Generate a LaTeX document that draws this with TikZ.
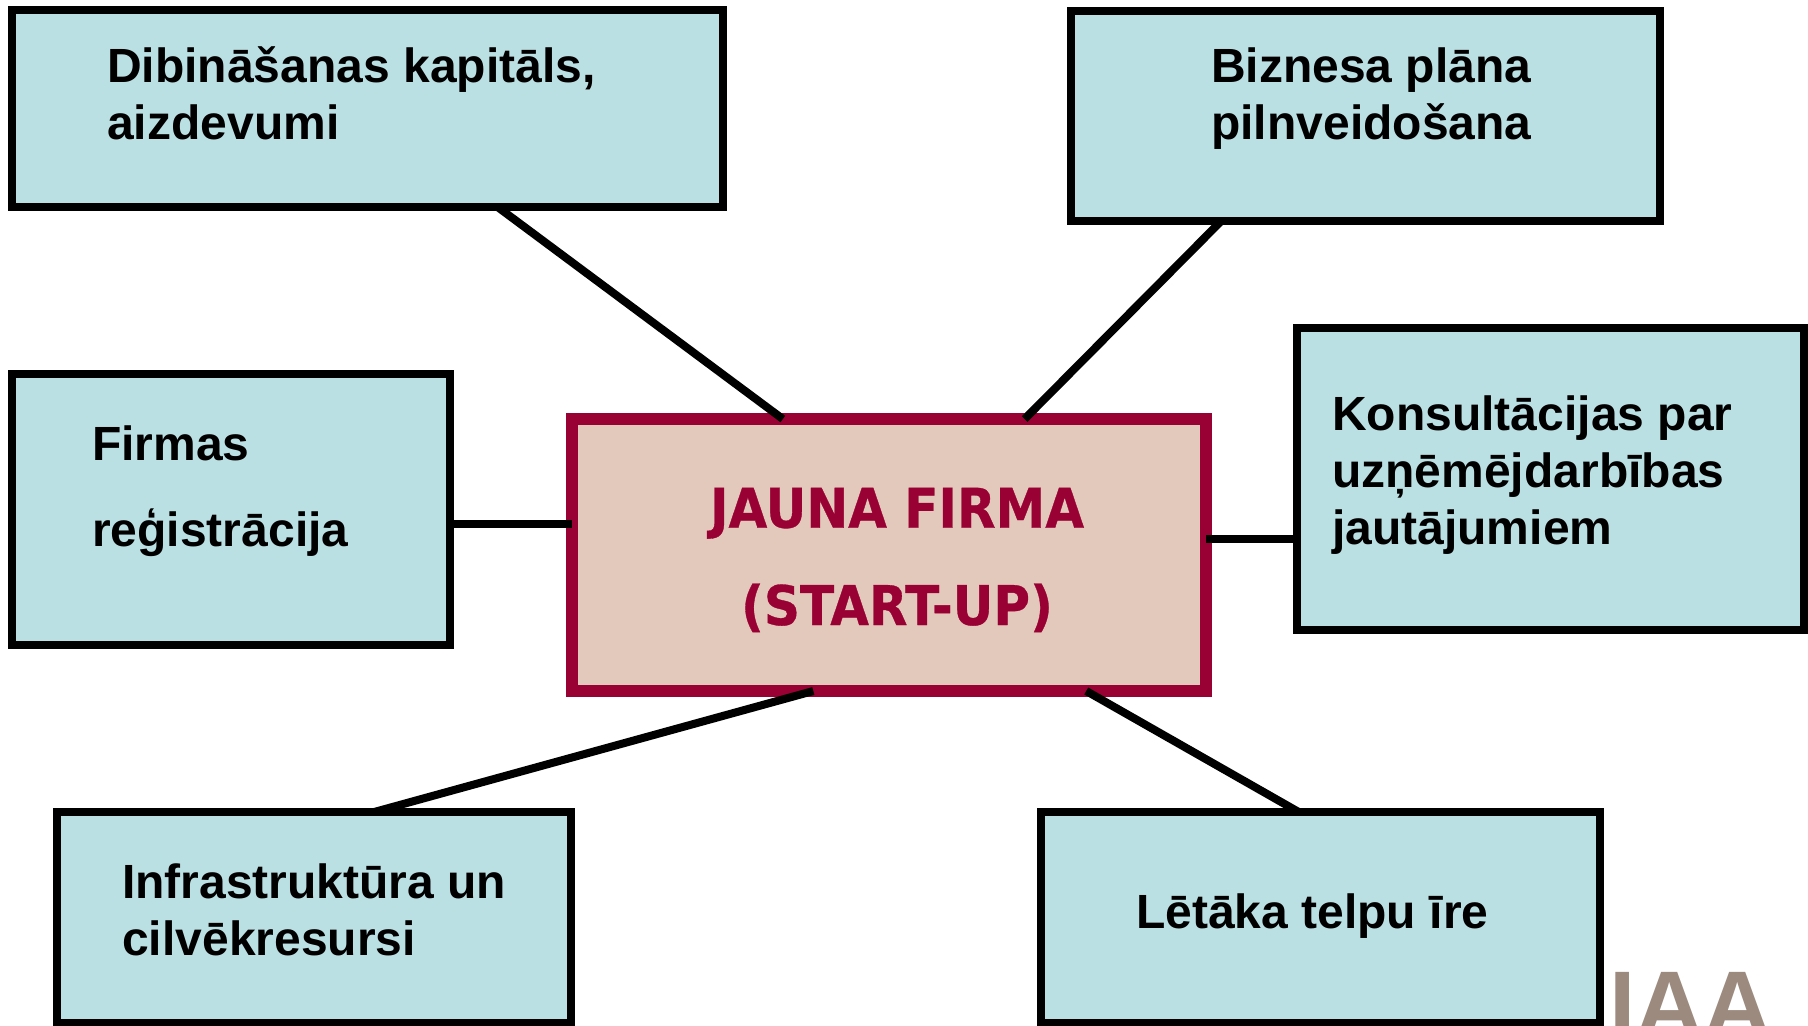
\documentclass[tikz,border=0pt]{standalone}
\usepackage{fontspec}
\setmainfont{Liberation Sans}
\newfontfamily\hubfont[FakeStretch=0.915,BoldFeatures={FakeBold=0.6}]{DejaVu Sans}
\usetikzlibrary{calc}
\definecolor{boxfill}{HTML}{BBE0E3}
\definecolor{hubfill}{HTML}{E3C9BB}
\definecolor{crimson}{HTML}{990033}
\definecolor{logo}{HTML}{9C8A7E}
\tikzset{
  x=0.75pt,y=-0.75pt,
  tbox/.style={draw=black,line width=6.3pt,fill=boxfill,inner sep=0pt,outer sep=0pt,anchor=north west},
  hub/.style={draw=crimson,line width=9pt,fill=hubfill,inner sep=0pt,outer sep=0pt,anchor=north west},
  lab/.style={font=\fontsize{36}{43}\selectfont\bfseries,align=left,anchor=north west,inner sep=0pt},
  link/.style={draw=black,line width=6pt}
}
\begin{document}
\begin{tikzpicture}
\useasboundingbox (0,0) rectangle (1808,1025);
\path[fill=white] (0,0) rectangle (1808,1025);
\node[text=logo,font=\fontsize{71}{71}\selectfont\bfseries,anchor=base west,inner sep=0pt] (logo) at (1609,1037) {IAA};
\node[tbox,minimum width=533.25pt,minimum height=147.75pt] (cap) at (12,10) {};
\node[tbox,minimum width=441.75pt,minimum height=157.5pt] (plan) at (1071,11) {};
\node[tbox,minimum width=328.5pt,minimum height=203.25pt] (reg) at (12,374) {};
\node[tbox,minimum width=380.25pt,minimum height=226.5pt] (kons) at (1297,328) {};
\node[tbox,minimum width=385.5pt,minimum height=158.25pt] (infra) at (57,812) {};
\node[tbox,minimum width=419.25pt,minimum height=158.25pt] (tel) at (1041,812) {};
\node[hub,minimum width=476pt,minimum height=204pt] (hub) at (571.5,419) {};
\node[lab] (t1) at (107,46) {Dibināšanas kapitāls,\\aizdevumi};
\node[lab] (t2) at (1211,47) {Biznesa plāna\\pilnveidošana};
\node[lab,font=\fontsize{36}{65}\selectfont\bfseries] (t3) at (92,425) {Firmas\\reģistrācija};
\node[lab] (t4) at (1332,395) {Konsultācijas par\\uzņēmējdarbības\\jautājumiem};
\node[lab] (t5) at (122,863) {Infrastruktūra un\\cilvēkresursi};
\node[lab] (t6) at (1136,893) {Lētāka telpu īre};
\node[text=crimson,font=\hubfont\fontsize{41}{73}\selectfont\bfseries,align=center,inner sep=0pt] (t7) at (897,560) {JAUNA FIRMA\\(START-UP)};
\draw[link] ($(cap.south west)!0.683!(cap.south east)$) -- ($(hub.north west)!0.333!(hub.north east)$);
\draw[link] ($(plan.south west)!0.255!(plan.south east)$) -- ($(hub.north west)!0.714!(hub.north east)$);
\draw[link] (reg.east |- 0,524) -- (hub.west |- 0,524);
\draw[link] (hub.east |- 0,539) -- (kons.west |- 0,539);
\draw[link] ($(infra.north west)!0.617!(infra.north east)$) -- ($(hub.south west)!0.381!(hub.south east)$);
\draw[link] ($(tel.north west)!0.461!(tel.north east)$) -- ($(hub.south west)!0.811!(hub.south east)$);
\end{tikzpicture}
\end{document}
